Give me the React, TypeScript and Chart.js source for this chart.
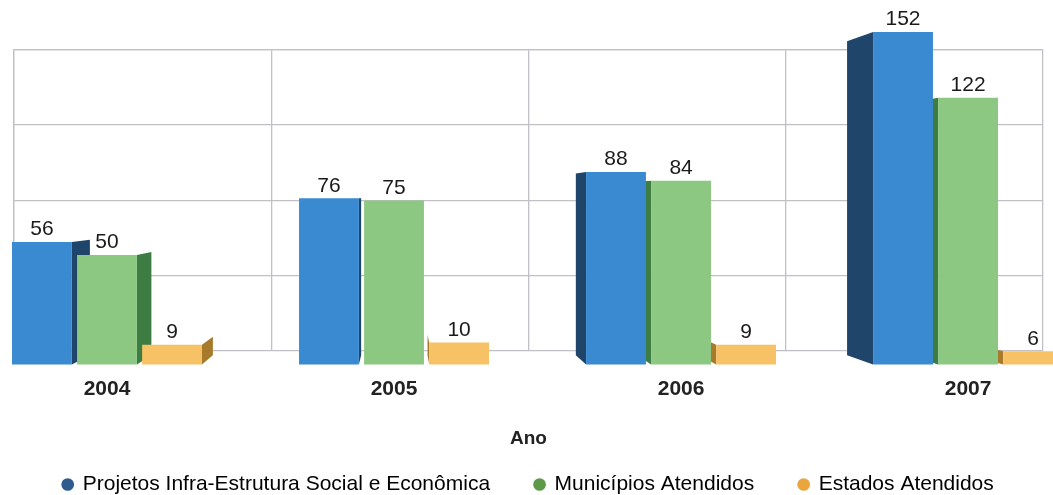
import React, { useEffect, useRef } from 'react';
import { Chart, registerables } from 'chart.js';

Chart.register(...registerables);

const years = ['2004', '2005', '2006', '2007'];
const projetos = [56, 76, 88, 152];
const municipios = [50, 75, 84, 122];
const estados = [9, 10, 9, 6];
const seriesNames = [
  'Projetos Infra-Estrutura Social e Econômica',
  'Municípios Atendidos',
  'Estados Atendidos',
];
const seriesValues = [projetos, municipios, estados];
const frontColors = ['#3a8ad2', '#8cc882', '#f6c265'];
const sideColors = ['#1f456b', '#3d7d43', '#a87a2c'];
const legendColors = ['#2e5a8e', '#5c9a4a', '#e9a63c'];
// back-wall grid (data units of the value axis) and grid columns
const yGridValues = [6.4, 40.75, 75.1, 109.45, 143.8];
const xGridValues = [0, 1, 2, 3, 4];

const FONT = '"Liberation Sans", Arial, sans-serif';
const GRID = '#c0c0c6';

const sidePlugin = {
  id: 'sides3d',
  beforeDatasetsDraw(chart: any) {
    const { ctx, chartArea: ca } = chart;
    const vx = ca.left + (ca.right - ca.left) * 0.375;
    const vy = (ca.top + ca.bottom) / 2;
    const s = 0.055;
    ctx.save();
    chart.data.datasets.forEach((_: any, di: number) => {
      const meta = chart.getDatasetMeta(di);
      meta.data.forEach((el: any) => {
        const { x, y, base, width } = el.getProps(['x', 'y', 'base', 'width'], true);
        const l = x - width / 2;
        const r = x + width / 2;
        let edge: number | null = null;
        if (vx > r) edge = r;
        else if (vx < l) edge = l;
        if (edge === null) return;
        const bx = edge + s * (vx - edge);
        const ty = y + s * (vy - y);
        const by = base + s * (vy - base);
        ctx.beginPath();
        ctx.moveTo(edge, y);
        ctx.lineTo(bx, ty);
        ctx.lineTo(bx, by);
        ctx.lineTo(edge, base);
        ctx.closePath();
        ctx.fillStyle = sideColors[di];
        ctx.fill();
      });
    });
    ctx.restore();
  },
};

const labelPlugin = {
  id: 'valueLabels',
  afterDatasetsDraw(chart: any) {
    const { ctx } = chart;
    ctx.save();
    ctx.font = `21px ${FONT}`;
    ctx.fillStyle = '#1a1a1a';
    ctx.textAlign = 'center';
    ctx.textBaseline = 'bottom';
    chart.data.datasets.forEach((ds: any, di: number) => {
      const meta = chart.getDatasetMeta(di);
      meta.data.forEach((el: any, i: number) => {
        const { x, y } = el.getProps(['x', 'y'], true);
        ctx.fillText(String(seriesValues[di][i]), x, y - 2);
      });
    });
    ctx.restore();
  },
};

export default function App() {
  const ref = useRef<HTMLCanvasElement | null>(null);

  useEffect(() => {
    if (!ref.current) return;
    const chart = new Chart(ref.current, {
      type: 'bar',
      data: {
        datasets: seriesValues.map((vals, di) => ({
          label: seriesNames[di],
          data: vals.map((v, i) => ({ x: i, y: v })),
          backgroundColor: frontColors[di],
          borderWidth: 0,
          base: 0,
          clip: false as any,
          categoryPercentage: 0.68,
          barPercentage: 0.92,
          xAxisID: 'x',
          yAxisID: 'y',
        })) as any,
      },
      options: {
        animation: false,
        responsive: true,
        maintainAspectRatio: false,
        events: [],
        layout: { padding: { top: 50, left: 14, right: 10, bottom: 0 } },
        plugins: {
          tooltip: { enabled: false },
          legend: {
            position: 'bottom',
            labels: {
              usePointStyle: true,
              pointStyle: 'circle',
              boxWidth: 9,
              boxHeight: 9,
              padding: 45,
              color: '#222',
              font: { family: FONT, size: 21 },
              generateLabels: () =>
                seriesNames.map((t, i) => ({
                  text: t,
                  fillStyle: legendColors[i],
                  strokeStyle: legendColors[i],
                  lineWidth: 0,
                  pointStyle: 'circle',
                  hidden: false,
                  datasetIndex: i,
                })) as any,
            },
          },
        },
        scales: {
          x: {
            type: 'linear',
            offset: false,
            min: -0.324,
            max: 3.261,
            grid: { display: false, drawTicks: false, offset: false },
            border: { display: false },
            afterBuildTicks: (axis: any) => {
              axis.ticks = years.map((_, i) => ({ value: i }));
            },
            ticks: {
              padding: 26,
              color: '#222',
              autoSkip: false,
              maxRotation: 0,
              font: { family: FONT, size: 21, weight: 'bold' },
              callback: (v: any) => years[Math.round(Number(v))] ?? '',
            },
            title: {
              display: true,
              text: 'Ano',
              color: '#222',
              font: { family: FONT, size: 19, weight: 'bold' },
              padding: { top: -0.5, bottom: -20.9 },
            },
          },
          xg: {
            type: 'linear',
            position: 'top',
            offset: false,
            min: 0,
            max: 4,
            grid: { color: GRID, drawTicks: false, lineWidth: 1.3, offset: false },
            border: { color: GRID, width: 1.3 },
            ticks: { display: false },
            afterBuildTicks: (axis: any) => {
              axis.ticks = xGridValues.map((v) => ({ value: v }));
            },
          },
          y: {
            type: 'linear',
            min: yGridValues[0],
            max: yGridValues[yGridValues.length - 1],
            grid: { color: GRID, drawTicks: false, lineWidth: 1.3 },
            border: { color: GRID, width: 1.3 },
            ticks: { display: false },
            afterBuildTicks: (axis: any) => {
              axis.ticks = yGridValues.map((v) => ({ value: v }));
            },
          },
        } as any,
      },
      plugins: [sidePlugin, labelPlugin],
    });
    return () => chart.destroy();
  }, []);

  return (
    <div
      style={{
        position: 'absolute',
        left: 0,
        top: 0,
        width: 1053,
        height: 495,
        overflow: 'hidden',
        background: '#fff',
      }}
    >
      <div style={{ position: 'relative', width: 1053, height: 505 }}>
        <canvas ref={ref} />
      </div>
    </div>
  );
}
